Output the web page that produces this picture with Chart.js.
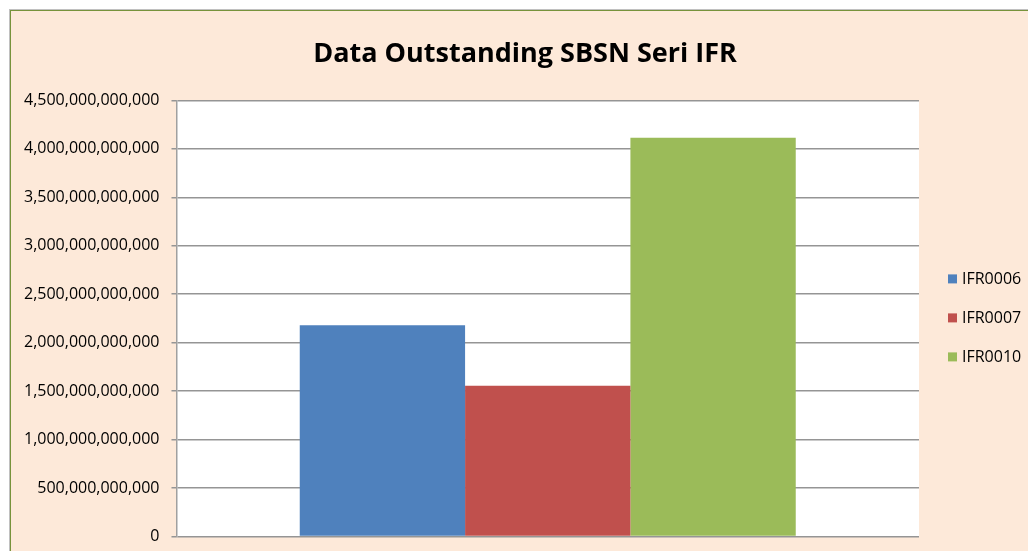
<!DOCTYPE html>
<html>
<head>
<meta charset="utf-8">
<script src="https://cdn.jsdelivr.net/npm/chart.js@4"></script>
<style>
  body { margin: 0; background: #fff; overflow: hidden; }
  #frame {
    position: absolute; left: 9px; top: 9px; width: 1040px; height: 560px;
    background: #fde9d9; border-top: 1px solid #c0c0c0; border-left: 1px solid #c0c0c0;
  }
  #inner {
    position: absolute; left: 0; top: 0; width: 1040px; height: 560px;
    border-top: 1px solid #77933c; border-left: 1px solid #77933c;
  }
  #wrap { position: absolute; left: 1px; top: 1px; width: 1030px; height: 546px; }
</style>
</head>
<body>
<div id="frame"><div id="inner"><div id="wrap"><canvas id="chart"></canvas></div></div></div>
<script>
// data
const categories = [''];
const seriesNames = ['IFR0006', 'IFR0007', 'IFR0010'];
const ifr0006 = [2180000000000];
const ifr0007 = [1555000000000];
const ifr0010 = [4115000000000];
const colors = ['#4f81bd', '#c0504d', '#9bbb59'];
const yMax = 4500000000000;
const yStep = 500000000000;

// fill plot area white
const plotBg = {
  id: 'plotBg',
  beforeDraw(chart) {
    const a = chart.chartArea;
    const ctx = chart.ctx;
    ctx.save();
    ctx.fillStyle = '#ffffff';
    ctx.fillRect(a.left, a.top, a.right - a.left, a.bottom - a.top);
    ctx.restore();
  }
};

// legend drawn at the right of the plot, centred on it
const sideLegend = {
  id: 'sideLegend',
  afterDraw(chart) {
    const a = chart.chartArea;
    const ctx = chart.ctx;
    const mid = (a.top + a.bottom) / 2;
    const sets = chart.data.datasets;
    ctx.save();
    ctx.font = '16px "Open Sans"';
    ctx.textBaseline = 'middle';
    sets.forEach(function(ds, i) {
      const y = mid + (i - (sets.length - 1) / 2) * 39;
      ctx.fillStyle = ds.backgroundColor;
      ctx.fillRect(a.right + 29, y - 5, 9, 9);
      ctx.fillStyle = '#000';
      ctx.fillText(ds.label, a.right + 43, y);
    });
    ctx.restore();
  }
};

const values = [ifr0006, ifr0007, ifr0010];

new Chart(document.getElementById('chart'), {
  type: 'bar',
  data: {
    labels: categories,
    datasets: seriesNames.map(function(name, i) {
      return {
        label: name,
        data: values[i],
        backgroundColor: colors[i],
        borderWidth: 0,
        categoryPercentage: 0.668,
        barPercentage: 1
      };
    })
  },
  options: {
    responsive: true,
    maintainAspectRatio: false,
    animation: false,
    layout: { padding: { left: 0, right: 4, bottom: 0 } },
    scales: {
      x: {
        ticks: { display: false },
        grid: { display: false },
        border: { display: false }
      },
      y: {
        min: 0,
        max: yMax,
        ticks: {
          stepSize: yStep,
          color: '#000',
          padding: 12,
          font: { family: 'Open Sans', size: 16 },
          callback: function(v) { return Number(v).toLocaleString('en-US'); }
        },
        grid: { color: '#959595', lineWidth: 1.5, tickLength: 5 },
        border: { color: '#a0a0a0', width: 1.5 }
      },
      // empty right axis that keeps room for the legend
      legendSpace: {
        type: 'linear',
        position: 'right',
        ticks: { display: false },
        grid: { display: false },
        border: { display: false },
        afterFit: function(scale) { scale.width = 119; }
      }
    },
    plugins: {
      title: {
        display: true,
        text: 'Data Outstanding SBSN Seri IFR',
        color: '#000',
        font: { family: 'Open Sans', size: 27, weight: 'bold' },
        padding: { top: 26, bottom: 30 }
      },
      legend: { display: false },
      tooltip: { enabled: false }
    }
  },
  plugins: [plotBg, sideLegend]
});
</script>
</body>
</html>
